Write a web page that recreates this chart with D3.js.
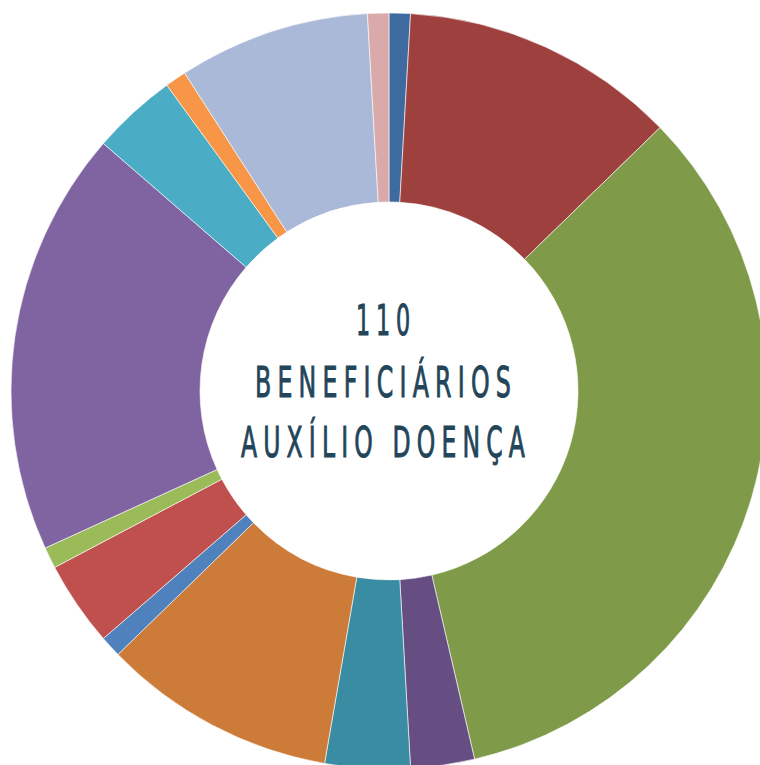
<!DOCTYPE html>
<html lang="pt">
<head>
<meta charset="utf-8">
<title>Beneficiários Auxílio Doença</title>
<script src="https://d3js.org/d3.v7.min.js"></script>
<style>
  body { margin: 0; background: #fff; }
  .center-label {
    font-family: "DejaVu Sans", sans-serif;
    fill: #23455a;
    stroke: #23455a;
    stroke-width: 1px;
    text-anchor: middle;
    letter-spacing: 11px;
  }
</style>
</head>
<body>
<div id="chart"></div>
<script>
// values, clockwise from 12 o'clock (total 110)
const slices = ["s1", "s2", "s3", "s4", "s5", "s6", "s7", "s8", "s9", "s10", "s11", "s12", "s13", "s14"];
const counts = [1, 13, 37, 3, 4, 11, 1, 4, 1, 20, 4, 1, 9, 1];
const colors = ["#3e6aa0", "#9e413e", "#7f9a48", "#664e83", "#3a8ca2", "#cc7b38",
                "#4f81bd", "#c0504d", "#9bbb59", "#8064a2", "#4bacc6", "#f79646",
                "#aab9d7", "#d9aaa9"];
const labelLines = ["110", "BENEFICIÁRIOS", "AUXÍLIO DOENÇA"];

const w = 760, h = 765;
const cx = 389, cy = 391;
const outerR = 378, innerR = 189;

const svg = d3.select("#chart").append("svg")
    .attr("width", w)
    .attr("height", h);

const pie = d3.pie().sort(null).value(d => d);
const arc = d3.arc().innerRadius(innerR).outerRadius(outerR);

const g = svg.append("g").attr("transform", `translate(${cx},${cy})`);

g.selectAll("path")
  .data(pie(counts))
  .join("path")
    .attr("d", arc)
    .attr("fill", (d, i) => colors[i])
    .attr("stroke", "#fff")
    .attr("stroke-opacity", 0.6)
    .attr("stroke-width", 1);

// center text, condensed by fitting each line to its measured width
const lineY = [-56, 6, 66];
const lineW = [60, 262, 290];
g.selectAll("text")
  .data(labelLines)
  .join("text")
    .attr("class", "center-label")
    .attr("x", -3)
    .attr("y", (d, i) => lineY[i])
    .attr("textLength", (d, i) => lineW[i])
    .attr("lengthAdjust", "spacingAndGlyphs")
    .style("font-size", "42px")
    .text(d => d);
</script>
</body>
</html>
